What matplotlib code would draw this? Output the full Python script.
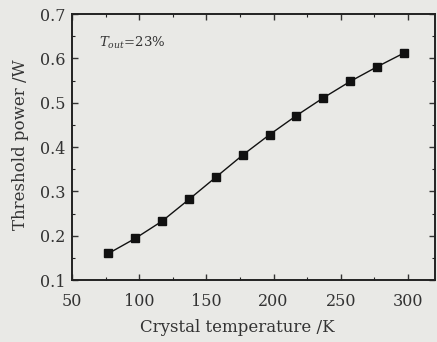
import matplotlib
matplotlib.use('Agg')
import matplotlib.pyplot as plt
from matplotlib.ticker import MultipleLocator

temperature = [77, 97, 117, 137, 157, 177, 197, 217, 237, 257, 277, 297]
threshold = [0.160, 0.194, 0.233, 0.282, 0.332, 0.382, 0.428, 0.471, 0.511, 0.548, 0.581, 0.612]

plt.rcParams['font.family'] = ['DejaVu Serif']
plt.rcParams['mathtext.fontset'] = 'dejavuserif'

bg = '#e9e9e6'
fig = plt.figure(figsize=(4.37, 3.42), dpi=100, facecolor=bg)
ax = fig.add_axes([0.165, 0.181, 0.83, 0.778], facecolor=bg)

ax.plot(temperature, threshold, color='#111111', lw=1.0, marker='s', ms=6.2,
        mfc='#111111', mec='#111111')

ax.set_xlim(50, 320)
ax.set_ylim(0.1, 0.7)
ax.xaxis.set_major_locator(MultipleLocator(50))
ax.xaxis.set_minor_locator(MultipleLocator(25))
ax.yaxis.set_major_locator(MultipleLocator(0.1))
ax.yaxis.set_minor_locator(MultipleLocator(0.05))
ax.tick_params(which='both', direction='in', top=True, right=True, color='#222222')
ax.tick_params(which='major', length=4, width=1.0, labelsize=11.5, colors='#333333')
ax.tick_params(axis='x', which='major', pad=9)
ax.tick_params(axis='y', which='major', pad=5)
ax.tick_params(which='minor', length=2, width=0.8)
for s in ax.spines.values():
    s.set_linewidth(1.4)
    s.set_color('#222222')

ax.set_xlabel('Crystal temperature /K', fontsize=12, color='#333333')
ax.set_ylabel('Threshold power /W', fontsize=12, color='#333333')
ax.xaxis.set_label_coords(0.455, -0.148)
ax.yaxis.set_label_coords(-0.118, 0.51)
ax.text(0.075, 0.875, r'$T_{out}$=23%', transform=ax.transAxes, fontsize=9.5, color='#333333')

fig.savefig('out.png', dpi=100, facecolor=bg)
